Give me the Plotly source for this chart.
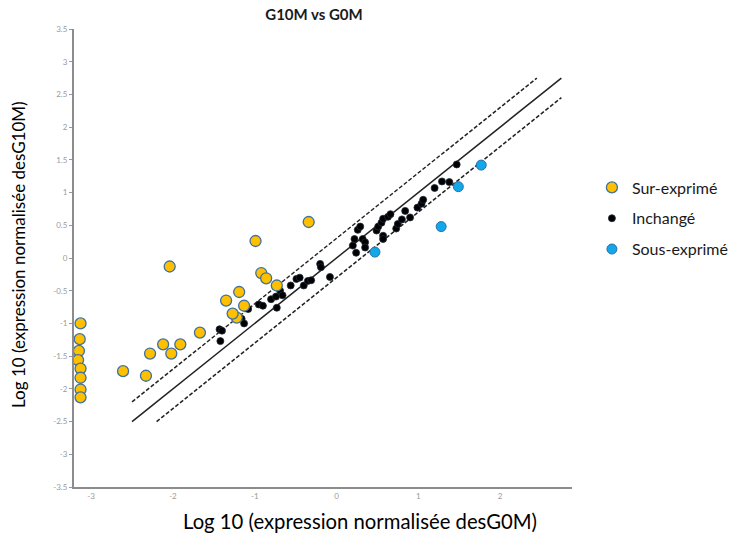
import plotly.graph_objects as go

# ---- Data ----
sur_x = [-3.13, -3.14, -3.15, -3.16, -3.13, -3.13, -3.13, -3.13,
         -2.61, -2.33, -2.28, -2.12, -2.02, -1.91, -2.04, -1.67,
         -1.35, -1.22, -1.27, -1.19, -1.13, -0.99, -0.92, -0.86, -0.73, -0.34]
sur_y = [-1.00, -1.24, -1.42, -1.56, -1.69, -1.83, -2.01, -2.13,
         -1.73, -1.80, -1.46, -1.32, -1.46, -1.32, -0.13, -1.14,
         -0.65, -0.91, -0.85, -0.52, -0.73, 0.26, -0.23, -0.31, -0.42, 0.55]

inch_x = [-1.43, -1.40, -1.42, -1.16, -1.13, -1.08, -0.95, -0.90, -0.80, -0.74,
          -0.73, -0.69, -0.66, -0.56, -0.49, -0.45, -0.40, -0.35, -0.31, -0.20,
          -0.19, -0.08,
          0.20, 0.22, 0.24, 0.26, 0.29, 0.32, 0.35, 0.35, 0.49, 0.51, 0.55, 0.57,
          0.57, 0.57, 0.63, 0.66, 0.73, 0.75, 0.80, 0.84, 0.90, 0.99, 1.04, 1.06,
          1.20, 1.29, 1.38, 1.47]
inch_y = [-1.09, -1.11, -1.27, -0.93, -1.00, -0.78, -0.71, -0.73, -0.63, -0.59,
          -0.76, -0.50, -0.57, -0.42, -0.32, -0.30, -0.42, -0.35, -0.34, -0.09,
          -0.14, -0.29,
          0.19, 0.29, 0.08, 0.43, 0.48, 0.29, 0.24, 0.16, 0.42, 0.48, 0.54, 0.60,
          0.34, 0.29, 0.63, 0.67, 0.45, 0.52, 0.59, 0.72, 0.62, 0.77, 0.83, 0.89,
          1.07, 1.17, 1.16, 1.43]

sous_x = [0.47, 1.28, 1.49, 1.77]
sous_y = [0.09, 0.48, 1.09, 1.42]

# reference lines (y = x, y = x + 0.3, y = x - 0.3)
diag_x = [-2.5, 2.75]
diag_y = [-2.5, 2.75]
upper_x = [-2.5, 2.45]
upper_y = [-2.2, 2.75]
lower_x = [-2.2, 2.75]
lower_y = [-2.5, 2.45]

x_ticks = [-3, -2, -1, 0, 1, 2]
y_ticks = [-3.5, -3, -2.5, -2, -1.5, -1, -0.5, 0, 0.5, 1, 1.5, 2, 2.5, 3, 3.5]

FONT = "Lato, 'Open Sans', sans-serif"

fig = go.Figure()

for lx, ly, dash in [(diag_x, diag_y, "solid"), (upper_x, upper_y, "4px,2px"), (lower_x, lower_y, "4px,2px")]:
    fig.add_trace(go.Scatter(x=lx, y=ly, mode="lines", showlegend=False, hoverinfo="skip",
                             line=dict(color="#222222", width=1.5, dash=dash)))

fig.add_trace(go.Scatter(x=inch_x, y=inch_y, mode="markers", name="Inchangé",
                         legendrank=2, legendgroup="b",
                         marker=dict(color="#000000", size=7, line=dict(color="#1f2a3a", width=0.8))))
fig.add_trace(go.Scatter(x=sous_x, y=sous_y, mode="markers", name="Sous-exprimé",
                         legendrank=3, legendgroup="c",
                         marker=dict(color="#12A7E8", size=10, line=dict(color="#2E6FA8", width=1))))
fig.add_trace(go.Scatter(x=sur_x, y=sur_y, mode="markers", name="Sur-exprimé",
                         legendrank=1, legendgroup="a",
                         marker=dict(color="#FFC000", size=11, line=dict(color="#41719C", width=1.3))))

axis_common = dict(showgrid=False, zeroline=False, showline=True, linecolor="#8c8c8c", linewidth=2,
                   tickfont=dict(family=FONT, size=8, color="#9a9a9a"))

fig.update_layout(
    width=742, height=535,
    margin=dict(l=74, r=170, t=29, b=48, autoexpand=False),
    paper_bgcolor="white", plot_bgcolor="white",
    font=dict(family=FONT, color="#000000"),
    title=dict(text="<b>G10M vs G0M</b>", x=(314 - 74) / 498, xref="paper", xanchor="center",
               y=1 - 15 / 535, yref="container", yanchor="middle",
               font=dict(family=FONT, size=15, color="#1a1a1a")),
    xaxis=dict(range=[-3.21, 2.88], tickmode="array", tickvals=x_ticks,
               ticktext=[str(v) for v in x_ticks], ticks="", **axis_common),
    yaxis=dict(range=[-3.5, 3.5], tickmode="array", tickvals=y_ticks,
               ticktext=[("%g" % v) for v in y_ticks], ticks="outside", ticklen=3,
               tickcolor="#9a9a9a", **axis_common),
    legend=dict(x=1.04, xanchor="left", y=0.691, yanchor="top",
                font=dict(family=FONT, size=16, color="#1a1a1a"),
                tracegroupgap=7, bgcolor="rgba(0,0,0,0)"),
    annotations=[
        dict(text="Log 10 (expression normalisée desG10M)", xref="paper", yref="paper",
             x=(18 - 74) / 498, y=(487 - 255) / 458, xanchor="center", yanchor="middle",
             textangle=-90, showarrow=False, font=dict(family=FONT, size=17, color="#000000")),
        dict(text="Log 10 (expression normalisée desG0M)", xref="paper", yref="paper",
             x=(360 - 74) / 498, y=(487 - 521) / 458, xanchor="center", yanchor="middle",
             showarrow=False, font=dict(family=FONT, size=20.3, color="#000000")),
    ],
)

fig.write_html("out.html", config={"displayModeBar": False},
               post_script="document.body.style.margin='0';document.body.style.padding='0';")
